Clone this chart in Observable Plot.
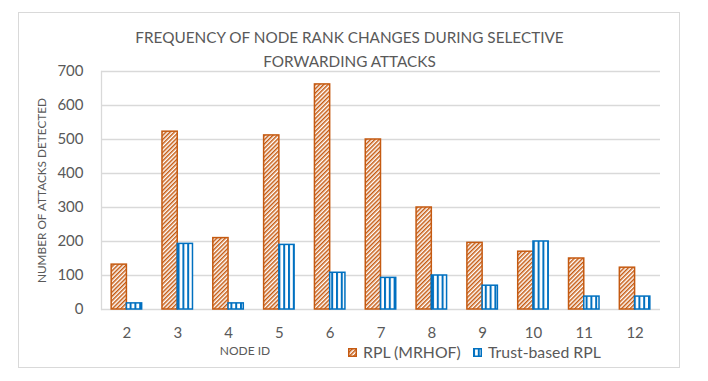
<!DOCTYPE html>
<html>
<head>
<meta charset="utf-8">
<script src="https://cdn.jsdelivr.net/npm/d3@7"></script>
<script src="https://cdn.jsdelivr.net/npm/@observablehq/plot@0.6"></script>
<style>
  html, body { margin: 0; padding: 0; background: #fff; }
  body { width: 708px; height: 381px; position: relative; overflow: hidden; font-family: Lato, "Open Sans", sans-serif; color: #595959; }
  #frame { position: absolute; left: 18px; top: 12px; width: 660px; height: 354px; border: 1.5px solid #d9d9d9; box-sizing: content-box; }
  #title { position: absolute; left: 0; width: 699px; top: 26px; text-align: center; font-size: 15.3px; line-height: 23.5px; color: #595959; }
  #xlabel { position: absolute; left: 195px; width: 100px; top: 343px; text-align: center; font-size: 12px; line-height: 16px; }
  .legend-item { position: absolute; top: 342px; display: flex; align-items: center; font-size: 15.8px; line-height: 20px; white-space: nowrap; }
  .legend-item svg { display: block; margin-right: 6px; }
  #chart { position: absolute; left: 0; top: 0; }
  #chart g[aria-label="y-axis label"] { font-size: 11.8px; }
</style>
</head>
<body>
<svg width="0" height="0" style="position:absolute">
  <defs>
    <pattern id="diagOrange" patternUnits="userSpaceOnUse" width="3" height="3" patternTransform="rotate(45)">
      <rect width="3" height="3" fill="#ffffff"></rect>
      <rect width="1.5" height="3" fill="#C55A11"></rect>
    </pattern>
    <pattern id="vertBlue" patternUnits="userSpaceOnUse" width="4.8" height="4">
      <rect width="4.8" height="4" fill="#ffffff"></rect>
      <rect width="2" height="4" fill="#0070C0"></rect>
    </pattern>
  </defs>
</svg>
<div id="frame"></div>
<div id="title">FREQUENCY OF NODE RANK CHANGES DURING SELECTIVE<br>FORWARDING ATTACKS</div>
<div id="chart"></div>
<div id="xlabel">NODE ID</div>
<div class="legend-item" style="left:348px">
  <svg width="9" height="9"><rect x="0.75" y="0.75" width="7.5" height="7.5" fill="url(#diagOrange)" stroke="#C55A11" stroke-width="1.5"></rect></svg>
  <span>RPL (MRHOF)</span>
</div>
<div class="legend-item" style="left:473px">
  <svg width="9" height="9"><rect x="0.75" y="0.75" width="7.5" height="7.5" fill="url(#vertBlue)" stroke="#0070C0" stroke-width="1.5"></rect></svg>
  <span>Trust-based RPL</span>
</div>
<script>
const nodes = [2, 3, 4, 5, 6, 7, 8, 9, 10, 11, 12];
const rplMrhof = [132, 523, 210, 512, 662, 500, 300, 196, 170, 150, 123];
const trustRpl = [18, 193, 18, 190, 108, 93, 100, 70, 200, 38, 38];
const yTicks = [0, 100, 200, 300, 400, 500, 600, 700];

const data = nodes.map((n, i) => ({node: n, rpl: rplMrhof[i], trust: trustRpl[i]}));

const chart = Plot.plot({
  width: 708,
  height: 381,
  marginLeft: 101,
  marginRight: 48,
  marginTop: 71,
  marginBottom: 72,
  style: {fontFamily: "Lato, 'Open Sans', sans-serif", color: "#595959", background: "transparent", fontSize: "15px"},
  x: {type: "band", domain: nodes, paddingInner: 0.4, paddingOuter: 0.2, round: false},
  y: {domain: [0, 700]},
  marks: [
    Plot.gridY(yTicks, {stroke: "#d9d9d9", strokeOpacity: 1, strokeWidth: 1.3}),
    Plot.frame({anchor: "left", stroke: "#d9d9d9", strokeWidth: 1.3}),
    Plot.barY(data, {x: "node", y: "rpl", insetRight: 15.25, fill: "url(#diagOrange)", stroke: "#C55A11", strokeWidth: 1.5}),
    Plot.barY(data, {x: "node", y: "trust", insetLeft: 15.25, fill: "url(#vertBlue)", stroke: "#0070C0", strokeWidth: 1.5}),
    Plot.axisY({ticks: yTicks, tickSize: 0, tickPadding: 18, fontSize: 15, label: "NUMBER OF ATTACKS DETECTED", labelAnchor: "center", labelOffset: 64, labelArrow: "none"}),
    Plot.axisX({tickSize: 0, tickPadding: 18, fontSize: 15, label: null})
  ]
});
document.getElementById("chart").appendChild(chart);
</script>
</body>
</html>
